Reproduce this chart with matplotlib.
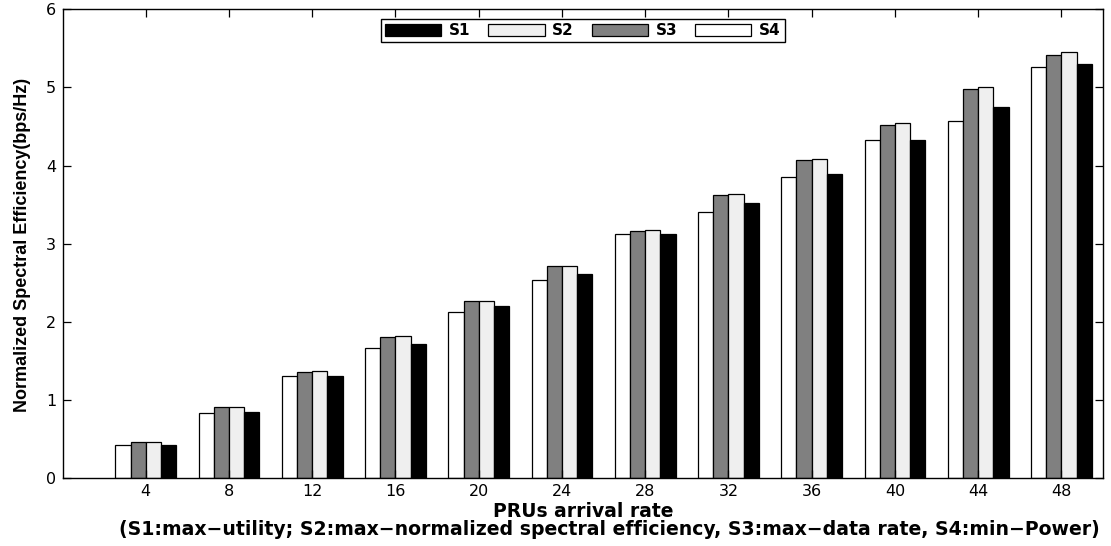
import matplotlib
matplotlib.use("Agg")
import matplotlib.pyplot as plt
import numpy as np

# ---- data ----
arrival_rates = [4, 8, 12, 16, 20, 24, 28, 32, 36, 40, 44, 48]
s1_max_utility = [0.42, 0.84, 1.30, 1.71, 2.20, 2.61, 3.12, 3.52, 3.89, 4.33, 4.75, 5.30]
s2_max_nse = [0.455, 0.91, 1.365, 1.82, 2.27, 2.72, 3.18, 3.63, 4.09, 4.54, 5.00, 5.45]
s3_max_rate = [0.455, 0.905, 1.355, 1.81, 2.26, 2.71, 3.16, 3.62, 4.07, 4.52, 4.98, 5.42]
s4_min_power = [0.42, 0.835, 1.30, 1.67, 2.12, 2.53, 3.12, 3.40, 3.85, 4.33, 4.57, 5.26]
legend_labels = ["S1", "S2", "S3", "S4"]
y_ticks = [0, 1, 2, 3, 4, 5, 6]

W, H = 1111, 546
fig = plt.figure(figsize=(W / 100, H / 100), dpi=100)
ax = fig.add_axes([62.5 / W, 1 - 478 / H, (1103 - 62.5) / W, (478 - 9.3) / H])

x = np.array(arrival_rates, dtype=float)
bw = 0.73
# draw order within each group: S4, S3, S2, S1
series = [
    (s4_min_power, "white", "S4"),
    (s3_max_rate, "#808080", "S3"),
    (s2_max_nse, "#efefef", "S2"),
    (s1_max_utility, "black", "S1"),
]
handles = {}
for i, (vals, col, lab) in enumerate(series):
    off = (i - 1.5) * bw
    b = ax.bar(x + off, vals, width=bw, color=col, edgecolor="black",
               linewidth=0.9, label=lab)
    handles[lab] = b

ax.set_xlim(0, 50)
ax.set_ylim(0, 6)
ax.set_xticks(arrival_rates)
ax.set_yticks(y_ticks)
ax.tick_params(direction="in", length=6, width=0.9, top=True, right=True,
               labelsize=11.5, pad=4.5)
for sp in ax.spines.values():
    sp.set_linewidth(1.0)

ax.set_xlabel("PRUs arrival rate", fontsize=13.5, fontweight="bold", va="center")
ax.xaxis.set_label_coords((583 - 62.5) / (1103 - 62.5), (478 - 511.5) / (478 - 9.3))
ax.set_ylabel("Normalized Spectral Efficiency(bps/Hz)", fontsize=13,
              fontweight="bold", family=["Liberation Sans Narrow", "Liberation Sans"],
              va="center")
ax.yaxis.set_label_coords((23 - 62.5) / (1103 - 62.5), (478 - 245) / (478 - 9.3))

fig.text(609 / W, 1 - 529.5 / H,
         "(S1:max\u2212utility; S2:max\u2212normalized spectral efficiency, "
         "S3:max\u2212data rate, S4:min\u2212Power)",
         ha="center", va="center", fontsize=13.6, fontweight="bold")

leg = ax.legend([handles[l] for l in legend_labels], legend_labels, ncol=4,
                loc="upper center", bbox_to_anchor=(0.5, (478 - 19.3) / (478 - 9.3)),
                fancybox=False, edgecolor="black", framealpha=1,
                prop={"weight": "bold", "size": 11},
                handlelength=3.7, handleheight=0.9, handletextpad=0.5,
                columnspacing=1.15, borderpad=0.25, borderaxespad=0)
leg.get_frame().set_linewidth(1.0)

fig.savefig("out.png", dpi=100)
